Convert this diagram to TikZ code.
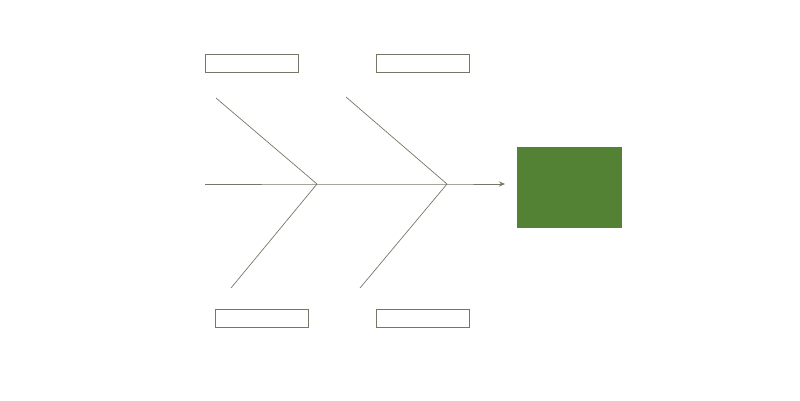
\documentclass[tikz,border=0pt]{standalone}
\usetikzlibrary{arrows.meta}
\definecolor{boneline}{RGB}{118,118,102}
\definecolor{headgreen}{RGB}{84,130,53}
\tikzset{
  causebox/.style={draw=boneline,minimum width=93pt,minimum height=18pt,inner sep=0pt,line width=0.8pt},
  bone/.style={draw=boneline,line width=0.7pt}
}
\begin{document}
\begin{tikzpicture}[x=1pt,y=-1pt]
        \useasboundingbox (0,0) rectangle (800,400);
        % Cause boxes
        \node[causebox] (topA) at (251.5,63) {};
        \node[causebox] (topB) at (422.5,63) {};
        \node[causebox] (botA) at (262,318) {};
        \node[causebox] (botB) at (422.5,318) {};
        % Head
        \node[fill=headgreen,minimum width=105pt,minimum height=81pt,inner sep=0pt] (head) at (569.5,187.5) {};
        % Spine
        \coordinate (tail) at (205,184);
        \coordinate (jointA) at (317,184);
        \coordinate (jointB) at (447,184);
        \coordinate (tip) at (505,184);
        \draw[bone,-{Stealth[length=6pt,width=5pt,fill=headgreen]}] (tail) -- (jointA) -- (jointB) -- (tip);
        % Bones
        \coordinate (upA) at (216,98);
        \coordinate (upB) at (346,97);
        \coordinate (lowA) at (231,288);
        \coordinate (lowB) at (360,288);
        \draw[bone] (upA) -- (jointA) -- (lowA);
        \draw[bone] (upB) -- (jointB) -- (lowB);
    \end{tikzpicture}
\end{document}
